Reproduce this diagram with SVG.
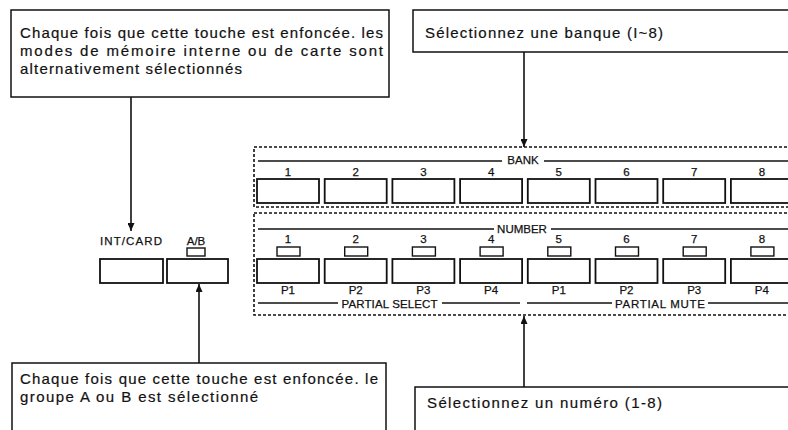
<svg xmlns="http://www.w3.org/2000/svg" width="788" height="430" viewBox="0 0 788 430">
<style>
.box{fill:#fff;stroke:#111;stroke-width:1.5}
.btn{fill:#fff;stroke:#111;stroke-width:1.8}
.led{fill:#fff;stroke:#111;stroke-width:1.4}
.dot{fill:none;stroke:#111;stroke-width:1.6;stroke-dasharray:3 2}
.ln{stroke:#111;stroke-width:1.5;fill:none}
.conn{stroke:#111;stroke-width:1.6;fill:none}
.t{font-family:"Liberation Sans",Arial,sans-serif;font-size:15px;fill:#111;stroke:#111;stroke-width:0.2}
.l{font-family:"Liberation Sans",Arial,sans-serif;font-size:11.5px;fill:#111;stroke:#111;stroke-width:0.25;text-anchor:middle}
</style>
<defs>
<marker id="ah" markerUnits="userSpaceOnUse" markerWidth="9" markerHeight="7" refX="8" refY="3.5" orient="auto">
<path d="M0,0 L8,3.5 L0,7 z" fill="#111"/>
</marker>
</defs>
<rect width="788" height="430" fill="#fff"/>

<g id="note-intcard">
<rect class="box" x="11" y="10" width="378" height="87"/>
<text class="t" x="20" y="38" textLength="363" lengthAdjust="spacing">Chaque fois que cette touche est enfoncée. les</text>
<text class="t" x="20" y="56" textLength="363" lengthAdjust="spacing">modes de mémoire interne ou de carte sont</text>
<text class="t" x="20" y="74" textLength="222" lengthAdjust="spacing">alternativement sélectionnés</text>
</g>

<g id="note-bank">
<rect class="box" x="413" y="10" width="400" height="42"/>
<text class="t" x="425" y="38" textLength="238" lengthAdjust="spacing">Sélectionnez une banque (I~8)</text>
</g>

<g id="note-ab">
<rect class="box" x="12" y="363" width="374" height="80"/>
<text class="t" x="20" y="384" textLength="358" lengthAdjust="spacing">Chaque fois que cette touche est enfoncée. le</text>
<text class="t" x="20" y="402" textLength="238" lengthAdjust="spacing">groupe A ou B est sélectionné</text>
</g>

<g id="note-number">
<rect class="box" x="415" y="387" width="400" height="60"/>
<text class="t" x="427" y="408" textLength="235" lengthAdjust="spacing">Sélectionnez un numéro (1-8)</text>
</g>

<g id="intcard-key">
<text class="l" x="131" y="245" textLength="62" lengthAdjust="spacing">INT/CARD</text>
<rect class="btn" x="100" y="259" width="63" height="24"/>
</g>

<g id="ab-key">
<text class="l" x="196" y="245">A/B</text>
<rect class="led" x="187" y="248" width="18" height="8"/>
<rect class="btn" x="167" y="259" width="61" height="24"/>
</g>

<g id="bank-section">
<rect class="dot" x="254" y="147" width="560" height="60"/>
<line class="ln" x1="258" y1="161" x2="502" y2="161"/>
<text class="l" x="523" y="164">BANK</text>
<line class="ln" x1="544" y1="161" x2="788" y2="161"/>
<text class="l" x="288" y="176">1</text>
<text class="l" x="355.7" y="176">2</text>
<text class="l" x="423.4" y="176">3</text>
<text class="l" x="491.1" y="176">4</text>
<text class="l" x="558.8" y="176">5</text>
<text class="l" x="626.5" y="176">6</text>
<text class="l" x="694.2" y="176">7</text>
<text class="l" x="761.9" y="176">8</text>
<rect class="btn" x="257" y="179" width="62" height="24"/>
<rect class="btn" x="324.7" y="179" width="62" height="24"/>
<rect class="btn" x="392.4" y="179" width="62" height="24"/>
<rect class="btn" x="460.1" y="179" width="62" height="24"/>
<rect class="btn" x="527.8" y="179" width="62" height="24"/>
<rect class="btn" x="595.5" y="179" width="62" height="24"/>
<rect class="btn" x="663.2" y="179" width="62" height="24"/>
<rect class="btn" x="730.9" y="179" width="62" height="24"/>
</g>

<g id="number-section">
<rect class="dot" x="254" y="213" width="560" height="102"/>
<line class="ln" x1="258" y1="229" x2="494" y2="229"/>
<text class="l" x="522" y="233">NUMBER</text>
<line class="ln" x1="551" y1="229" x2="788" y2="229"/>
<text class="l" x="288" y="243">1</text>
<text class="l" x="355.7" y="243">2</text>
<text class="l" x="423.4" y="243">3</text>
<text class="l" x="491.1" y="243">4</text>
<text class="l" x="558.8" y="243">5</text>
<text class="l" x="626.5" y="243">6</text>
<text class="l" x="694.2" y="243">7</text>
<text class="l" x="761.9" y="243">8</text>
<rect class="led" x="277" y="247" width="23" height="9"/>
<rect class="led" x="344.7" y="247" width="23" height="9"/>
<rect class="led" x="412.4" y="247" width="23" height="9"/>
<rect class="led" x="480.1" y="247" width="23" height="9"/>
<rect class="led" x="547.8" y="247" width="23" height="9"/>
<rect class="led" x="615.5" y="247" width="23" height="9"/>
<rect class="led" x="683.2" y="247" width="23" height="9"/>
<rect class="led" x="750.9" y="247" width="23" height="9"/>
<rect class="btn" x="257" y="259" width="62" height="24"/>
<rect class="btn" x="324.7" y="259" width="62" height="24"/>
<rect class="btn" x="392.4" y="259" width="62" height="24"/>
<rect class="btn" x="460.1" y="259" width="62" height="24"/>
<rect class="btn" x="527.8" y="259" width="62" height="24"/>
<rect class="btn" x="595.5" y="259" width="62" height="24"/>
<rect class="btn" x="663.2" y="259" width="62" height="24"/>
<rect class="btn" x="730.9" y="259" width="62" height="24"/>
<text class="l" x="288" y="294">P1</text>
<text class="l" x="355.7" y="294">P2</text>
<text class="l" x="423.4" y="294">P3</text>
<text class="l" x="491.1" y="294">P4</text>
<text class="l" x="558.8" y="294">P1</text>
<text class="l" x="626.5" y="294">P2</text>
<text class="l" x="694.2" y="294">P3</text>
<text class="l" x="761.9" y="294">P4</text>
<line class="ln" x1="258" y1="303" x2="338" y2="303"/>
<text class="l" x="389.5" y="308" textLength="96" lengthAdjust="spacing">PARTIAL SELECT</text>
<line class="ln" x1="442" y1="303" x2="520" y2="303"/>
<line class="ln" x1="527" y1="303" x2="612" y2="303"/>
<text class="l" x="660" y="308" textLength="90" lengthAdjust="spacing">PARTIAL MUTE</text>
<line class="ln" x1="708" y1="303" x2="788" y2="303"/>
</g>

<g id="connectors">
<line class="conn" x1="131" y1="97" x2="131" y2="231" marker-end="url(#ah)"/>
<line class="conn" x1="524" y1="52" x2="524" y2="147" marker-end="url(#ah)"/>
<line class="conn" x1="524" y1="387" x2="524" y2="316" marker-end="url(#ah)"/>
<line class="conn" x1="199" y1="363" x2="199" y2="284" marker-end="url(#ah)"/>
</g>
</svg>
